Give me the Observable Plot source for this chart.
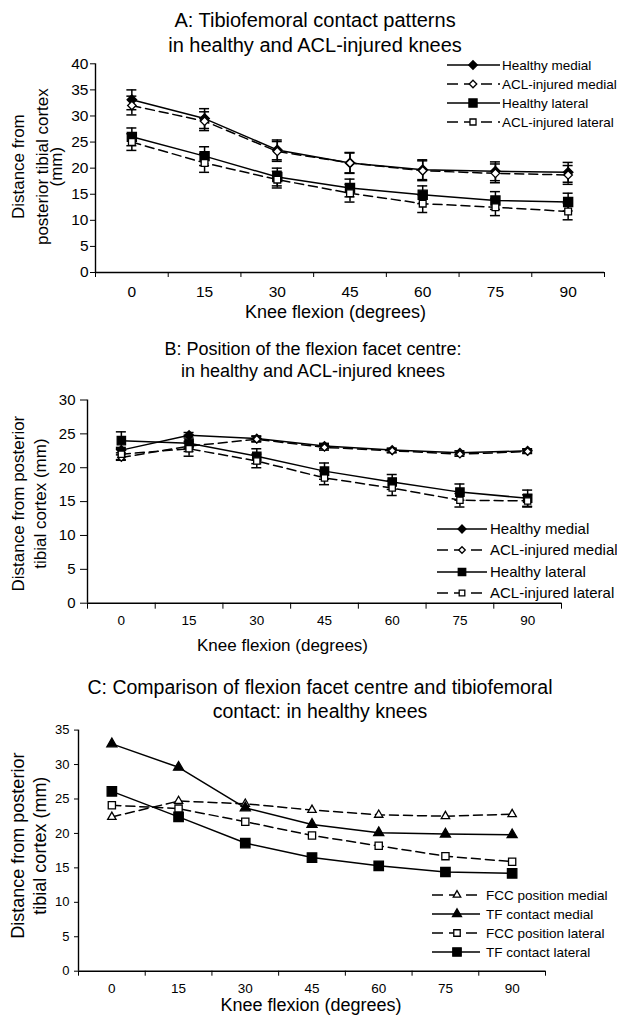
<!DOCTYPE html>
<html><head><meta charset="utf-8">
<script src="https://cdn.jsdelivr.net/npm/d3@7"></script>
<script src="https://cdn.jsdelivr.net/npm/@observablehq/plot@0.6"></script>
<style>
body{margin:0;background:#fff;}
#wrap{position:relative;width:617px;height:1015px;background:#fff;font-family:"Liberation Sans",Arial,sans-serif;color:#000;overflow:hidden}
.panel{position:absolute;left:0;}
.title{position:absolute;text-align:center;white-space:nowrap;color:#000;}
</style></head><body><div id="wrap"></div>
<script>
// ---------- shared categories ----------
const angles = [0, 15, 30, 45, 60, 75, 90];
const angleBounds = [-7.5, 7.5, 22.5, 37.5, 52.5, 67.5, 82.5, 97.5];
const xLabel = "Knee flexion (degrees)";

// ---------- Panel A ----------
const aTitle = ["A: Tibiofemoral contact patterns", "in healthy and ACL-injured knees"];
const aYLabel = ["Distance from", "posterior tibial cortex", "(mm)"];
const aYTicks = [0, 5, 10, 15, 20, 25, 30, 35, 40];
const aNames = ["Healthy medial", "ACL-injured medial", "Healthy lateral", "ACL-injured lateral"];
const aHealthyMedial = [33.1, 29.5, 23.5, 21.0, 19.7, 19.4, 19.2];
const aAclMedial = [32.0, 29.0, 23.2, 21.0, 19.5, 19.0, 18.7];
const aHealthyLateral = [26.0, 22.3, 18.3, 16.2, 14.9, 13.8, 13.5];
const aAclLateral = [25.0, 21.0, 17.8, 15.2, 13.2, 12.5, 11.7];
const aErrHealthyMedial = [1.9, 1.9, 1.9, 1.9, 1.9, 1.8, 1.9];
const aErrAclMedial = [1.8, 1.8, 1.9, 2.0, 1.9, 1.8, 1.8];
const aErrHealthyLateral = [1.7, 1.8, 1.7, 1.7, 1.7, 1.7, 1.7];
const aErrAclLateral = [1.6, 1.8, 1.6, 1.7, 1.7, 1.6, 1.6];

// ---------- Panel B ----------
const bTitle = ["B: Position of the flexion facet centre:", "in healthy and ACL-injured knees"];
const bYLabel = ["Distance from posterior", "tibial cortex (mm)"];
const bYTicks = [0, 5, 10, 15, 20, 25, 30];
const bNames = ["Healthy medial", "ACL-injured medial", "Healthy lateral", "ACL-injured lateral"];
const bHealthyMedial = [22.6, 24.8, 24.3, 23.2, 22.6, 22.2, 22.5];
const bAclMedial = [21.5, 23.2, 24.2, 23.0, 22.5, 22.0, 22.4];
const bHealthyLateral = [24.0, 23.6, 21.7, 19.5, 17.9, 16.4, 15.5];
const bAclLateral = [22.0, 22.8, 21.0, 18.5, 17.0, 15.2, 15.1];
const bErrHealthyMedial = [0.4, 0.4, 0.4, 0.4, 0.3, 0.3, 0.3];
const bErrAclMedial = [0.4, 0.4, 0.4, 0.4, 0.3, 0.3, 0.3];
const bErrHealthyLateral = [1.3, 1.2, 1.1, 1.2, 1.1, 1.2, 1.2];
const bErrAclLateral = [0.8, 1.1, 1.0, 1.0, 1.1, 1.0, 0.9];

// ---------- Panel C ----------
const cTitle = ["C: Comparison of flexion facet centre and tibiofemoral", "contact: in healthy knees"];
const cYLabel = ["Distance from posterior", "tibial cortex (mm)"];
const cYTicks = [0, 5, 10, 15, 20, 25, 30, 35];
const cNames = ["FCC position medial", "TF contact medial", "FCC position lateral", "TF contact lateral"];
const cFccMedial = [22.4, 24.7, 24.3, 23.4, 22.7, 22.5, 22.8];
const cTfMedial = [33.0, 29.6, 23.7, 21.3, 20.1, 19.9, 19.8];
const cFccLateral = [24.1, 23.6, 21.7, 19.7, 18.2, 16.7, 15.9];
const cTfLateral = [26.1, 22.4, 18.6, 16.5, 15.3, 14.4, 14.2];

const FONT = '"Liberation Sans", Arial, sans-serif';
const DASH = "9,5";
const wrap = document.getElementById("wrap");

function addTitle(lines, cx, tops, size) {
  lines.forEach((t, i) => {
    const d = document.createElement("div");
    d.className = "title";
    d.textContent = t;
    d.style.left = (cx - 300) + "px";
    d.style.width = "600px";
    d.style.top = tops[i] + "px";
    d.style.fontSize = size + "px";
    d.style.lineHeight = (size * 1.2) + "px";
    wrap.appendChild(d);
  });
}

function panel(cfg) {
  const rows = [];
  cfg.series.forEach(s => s.values.forEach((v, i) => rows.push({
    series: s.name, angle: angles[i], v, e: s.errors ? s.errors[i] : 0
  })));
  const marks = [];
  marks.push(Plot.ruleY([cfg.yDomain[0]], {stroke: "black", strokeWidth: 1.4}));
  marks.push(Plot.ruleX([angleBounds[0]], {stroke: "black", strokeWidth: 1.4}));
  for (const s of cfg.series) {
    const d = rows.filter(r => r.series === s.name);
    marks.push(Plot.line(d, {x: "angle", y: "v", stroke: "black", strokeWidth: 1.5, strokeDasharray: s.dash || null}));
  }
  for (const s of cfg.series) {
    if (!s.errors) continue;
    const d = rows.filter(r => r.series === s.name);
    marks.push(Plot.ruleX(d, {x: "angle", y1: r => r.v - r.e, y2: r => r.v + r.e, stroke: "black", strokeWidth: 1.5}));
    marks.push(Plot.ruleY(d, {x1: "angle", x2: "angle", y: r => r.v + r.e, insetLeft: -5, insetRight: -5, stroke: "black", strokeWidth: 1.5}));
    marks.push(Plot.ruleY(d, {x1: "angle", x2: "angle", y: r => r.v - r.e, insetLeft: -5, insetRight: -5, stroke: "black", strokeWidth: 1.5}));
  }
  for (const s of cfg.series) {
    const d = rows.filter(r => r.series === s.name);
    marks.push(Plot.dot(d, {x: "angle", y: "v", symbol: s.symbol, r: s.r, fill: s.fill, stroke: "black", strokeWidth: 1.3}));
  }
  // tick labels
  marks.push(Plot.text(angles, {x: d => d, frameAnchor: "bottom", dy: cfg.xTickDy, fontSize: cfg.xTickFont, lineAnchor: "middle", fill: "black"}));
  marks.push(Plot.text(cfg.yTicks, {y: d => d, frameAnchor: "left", dx: cfg.yTickDx, textAnchor: "end", fontSize: cfg.yTickFont, lineAnchor: "middle", fill: "black"}));
  marks.push(Plot.text([xLabel], {frameAnchor: "bottom", dy: cfg.xLabelDy, dx: cfg.xLabelDx, fontSize: cfg.xLabelFont, lineAnchor: "middle", fill: "black"}));
  cfg.yLabel.forEach((t, i) => {
    marks.push(Plot.text([t], {frameAnchor: "left", dx: cfg.yLabelX[i] - cfg.margin.left, dy: cfg.yLabelDy, rotate: -90, textAnchor: "middle", lineAnchor: "middle", fontSize: cfg.yLabelFont, fill: "black"}));
  });

  const svg = Plot.plot({
    width: 617,
    height: cfg.height,
    marginLeft: cfg.margin.left, marginRight: cfg.margin.right,
    marginTop: cfg.margin.top, marginBottom: cfg.margin.bottom,
    style: {fontFamily: FONT, color: "black", background: "transparent", overflow: "visible"},
    x: {type: "linear", domain: [angleBounds[0], angleBounds[angleBounds.length - 1]], ticks: angleBounds, tickSize: cfg.xTickSize, tickFormat: () => "", label: null},
    y: {type: "linear", domain: cfg.yDomain, ticks: cfg.yTicks, tickSize: cfg.yTickSize, tickFormat: () => "", label: null},
    marks
  });
  svg.querySelectorAll('g[aria-label^="x-axis"] line, g[aria-label^="y-axis"] line').forEach(l => {
    l.setAttribute("stroke", "black"); l.setAttribute("stroke-width", "1.4");
  });

  // legend
  const g = d3.select(svg).append("g").attr("font-family", FONT).attr("font-size", cfg.legend.font).attr("text-anchor", "start");
  cfg.series.forEach((s, i) => {
    const y = cfg.legend.rows[i];
    g.append("line").attr("x1", cfg.legend.x1).attr("x2", cfg.legend.x2).attr("y1", y).attr("y2", y)
      .attr("stroke", "black").attr("stroke-width", 1.5).attr("stroke-dasharray", s.dash ? s.legendDash : null);
    const sym = {diamond2: d3.symbolDiamond2, square2: d3.symbolSquare2, triangle2: d3.symbolTriangle2}[s.symbol];
    g.append("path").attr("d", d3.symbol(sym, s.r * s.r * Math.PI * 0.8)())
      .attr("transform", `translate(${cfg.legend.xm},${y})`)
      .attr("fill", s.fill).attr("stroke", "black").attr("stroke-width", 1.3);
    g.append("text").attr("x", cfg.legend.xt).attr("y", y).attr("dy", "0.35em")
      .attr("text-anchor", "start").attr("fill", "black").text(s.name);
  });

  const div = document.createElement("div");
  div.className = "panel";
  div.style.top = cfg.top + "px";
  div.appendChild(svg);
  wrap.appendChild(div);
}

// ---------- Panel A ----------
panel({
  top: 0, height: 330,
  margin: {left: 95, right: 13, top: 63.3, bottom: 58},
  yDomain: [0, 40], yTicks: aYTicks,
  xTickSize: 5, yTickSize: 5,
  xTickDy: 20, xTickFont: 15.5, yTickDx: -7, yTickFont: 15.5,
  xLabelDy: 40, xLabelDx: -14.5, xLabelFont: 18,
  yLabel: aYLabel, yLabelX: [18, 42, 56], yLabelDy: -1.5, yLabelFont: 17,
  series: [
    {name: aNames[0], values: aHealthyMedial, errors: aErrHealthyMedial, symbol: "diamond2", r: 4.3, fill: "black"},
    {name: aNames[1], values: aAclMedial, errors: aErrAclMedial, symbol: "diamond2", r: 3.8, fill: "white", dash: DASH, legendDash: "11,6"},
    {name: aNames[2], values: aHealthyLateral, errors: aErrHealthyLateral, symbol: "square2", r: 5.8, fill: "black"},
    {name: aNames[3], values: aAclLateral, errors: aErrAclLateral, symbol: "square2", r: 4.3, fill: "white", dash: DASH, legendDash: "11,6"}
  ],
  legend: {rows: [65, 84, 103, 122], x1: 447, x2: 500, xm: 473, xt: 502, font: 13.5}
});
addTitle(aTitle, 315, [8, 33], 20);

// ---------- Panel B ----------
panel({
  top: 330, height: 330,
  margin: {left: 87, right: 56, top: 69.5, bottom: 57.3},
  yDomain: [0, 30], yTicks: bYTicks,
  xTickSize: 6, yTickSize: 7,
  xTickDy: 17.3, xTickFont: 13.5, yTickDx: -12, yTickFont: 15,
  xLabelDy: 42, xLabelDx: -42, xLabelFont: 17,
  yLabel: bYLabel, yLabelX: [18, 40], yLabelDy: 2, yLabelFont: 17,
  series: [
    {name: bNames[0], values: bHealthyMedial, errors: bErrHealthyMedial, symbol: "diamond2", r: 4.0, fill: "black"},
    {name: bNames[1], values: bAclMedial, errors: bErrAclMedial, symbol: "diamond2", r: 3.3, fill: "white", dash: DASH, legendDash: "11,6"},
    {name: bNames[2], values: bHealthyLateral, errors: bErrHealthyLateral, symbol: "square2", r: 5.3, fill: "black"},
    {name: bNames[3], values: bAclLateral, errors: bErrAclLateral, symbol: "square2", r: 4.0, fill: "white", dash: DASH, legendDash: "11,6"}
  ],
  legend: {rows: [199, 220, 242, 263], x1: 437, x2: 487, xm: 462, xt: 490, font: 15}
});
addTitle(bTitle, 313, [339, 361], 18);

// ---------- Panel C ----------
panel({
  top: 660, height: 355,
  margin: {left: 78, right: 72, top: 69.6, bottom: 44.3},
  yDomain: [0, 35], yTicks: cYTicks,
  xTickSize: 5, yTickSize: 4,
  xTickDy: 17, xTickFont: 13.5, yTickDx: -9, yTickFont: 13,
  xLabelDy: 34, xLabelDx: -1, xLabelFont: 18,
  yLabel: cYLabel, yLabelX: [18, 40], yLabelDy: -5, yLabelFont: 18,
  series: [
    {name: cNames[0], values: cFccMedial, symbol: "triangle2", r: 4.0, fill: "white", dash: DASH, legendDash: "11,6"},
    {name: cNames[1], values: cTfMedial, symbol: "triangle2", r: 4.8, fill: "black"},
    {name: cNames[2], values: cFccLateral, symbol: "square2", r: 4.6, fill: "white", dash: DASH, legendDash: "11,6"},
    {name: cNames[3], values: cTfLateral, symbol: "square2", r: 6.0, fill: "black"}
  ],
  legend: {rows: [235, 254, 273, 292], x1: 432, x2: 480, xm: 457, xt: 486, font: 13.5}
});
addTitle(cTitle, 320, [676, 700], 19.5);
</script></body></html>
